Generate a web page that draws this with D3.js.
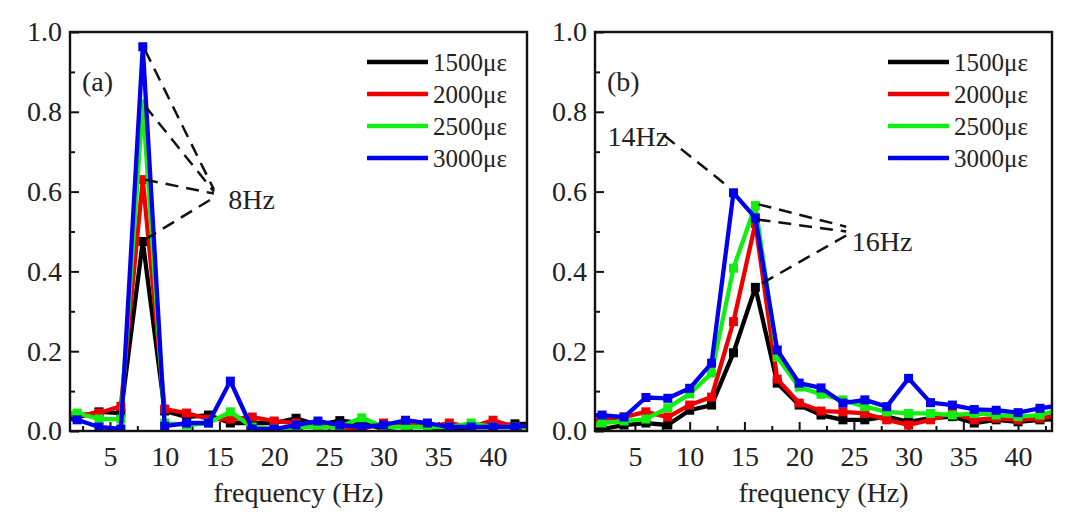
<!DOCTYPE html>
<html><head><meta charset="utf-8">
<script src="https://cdn.jsdelivr.net/npm/d3@7/dist/d3.min.js"></script>
<style>body{margin:0;background:#fff}svg{display:block}text{font-family:"Liberation Serif","Times New Roman",serif;fill:#222}</style>
</head><body>
<svg id="chart" width="1080" height="531"></svg>
<script>
// ---------- data ----------
const freqs = [0,2,4,6,8,10,12,14,16,18,20,22,24,26,28,30,32,34,36,38,40,42,44];
const seriesNames = ["1500\u03bc\u03b5","2000\u03bc\u03b5","2500\u03bc\u03b5","3000\u03bc\u03b5"];
const xTicks = [5,10,15,20,25,30,35,40];
const yTicks = [0,0.2,0.4,0.6,0.8,1.0];

const a1500 = [0.03,0.035,0.048,0.045,0.475,0.05,0.035,0.04,0.02,0.02,0.02,0.032,0.015,0.026,0.02,0.005,0.015,0.01,0.005,0.01,0.01,0.018,0.018];
const a2000 = [0.04,0.04,0.045,0.062,0.63,0.055,0.045,0.03,0.03,0.035,0.025,0.02,0.01,0.01,0.005,0.02,0.015,0.01,0.02,0.01,0.027,0.01,0.01];
const a2500 = [0.045,0.045,0.03,0.03,0.82,0.02,0.015,0.02,0.048,0.01,0.005,0.01,0.01,0.01,0.033,0.01,0.01,0.01,0.01,0.02,0.01,0.01,0.01];
const a3000 = [0.035,0.028,0.01,0.005,0.963,0.012,0.02,0.02,0.125,0.005,0.005,0.015,0.025,0.015,0.01,0.015,0.027,0.02,0.01,0.01,0.01,0.01,0.015];

const b1500 = [0.0,0.005,0.015,0.02,0.015,0.052,0.065,0.196,0.36,0.12,0.065,0.04,0.028,0.028,0.036,0.023,0.032,0.036,0.02,0.028,0.023,0.028,0.03];
const b2000 = [0.025,0.03,0.035,0.048,0.035,0.065,0.085,0.274,0.52,0.13,0.07,0.05,0.048,0.044,0.028,0.015,0.028,0.045,0.028,0.032,0.028,0.032,0.04];
const b2500 = [0.01,0.02,0.025,0.03,0.058,0.093,0.145,0.408,0.565,0.185,0.11,0.092,0.078,0.061,0.048,0.044,0.044,0.04,0.044,0.04,0.036,0.04,0.055];
const b3000 = [0.04,0.04,0.035,0.084,0.082,0.107,0.17,0.597,0.534,0.203,0.12,0.108,0.07,0.078,0.061,0.132,0.071,0.065,0.054,0.052,0.046,0.057,0.065];

// annotations: label positions and dashed leader segments [f1,v1,f2,v2] in data units
const annA = {tag:"(a)", label:"8Hz", lf:15.8, lv:0.582,
  lines:[[8.2,0.955,14.5,0.605],[8.2,0.815,14.5,0.60],[8.2,0.63,14.5,0.595],[8.2,0.48,14.5,0.585]]};
const annB = {tag:"(b)", label:"14Hz", lf:2.5, lv:0.74, label2:"16Hz", lf2:24.8, lv2:0.475,
  lines:[[7.7,0.74,13.4,0.615]],
  lines2:[[16.3,0.568,24.3,0.512],[16.2,0.53,24.3,0.50],[16.6,0.37,24.3,0.49]]};

const colors = ["#000000","#ee0000","#11ee11","#0000ee"];

// ---------- drawing ----------
const svg = d3.select("#chart");
const plotTop = 32, plotBottom = 431;
const panels = [
  {left:70, right:527, data:[a1500,a2000,a2500,a3000], ann:annA, legendX:367},
  {left:595, right:1052, data:[b1500,b2000,b2500,b3000], ann:annB, legendX:888}
];

panels.forEach((p,pi)=>{
  const x = d3.scaleLinear().domain([1.35,43.1]).range([p.left,p.right]);
  const y = d3.scaleLinear().domain([0,1]).range([plotBottom,plotTop]);
  const g = svg.append("g");
  const clipId = "clip"+pi;
  svg.append("defs").append("clipPath").attr("id",clipId)
    .append("rect").attr("x",p.left).attr("y",plotTop).attr("width",p.right-p.left).attr("height",plotBottom-plotTop);

  // axes with inward ticks
  const xMinor = d3.range(2.5,43,2.5).filter(v=>v%5!==0);
  const yMinor = [0.1,0.3,0.5,0.7,0.9];
  g.append("g").attr("transform",`translate(0,${plotBottom})`)
    .call(d3.axisBottom(x).tickValues(xMinor).tickSize(-5).tickFormat(""))
    .call(s=>s.select(".domain").remove()).selectAll("line").attr("stroke","#111").attr("stroke-width",2);
  const xa = g.append("g").attr("transform",`translate(0,${plotBottom})`)
    .call(d3.axisBottom(x).tickValues(xTicks).tickSize(-9).tickPadding(20).tickFormat(d3.format("d")));
  xa.select(".domain").remove();
  xa.selectAll("line").attr("stroke","#111").attr("stroke-width",2);
  xa.selectAll("text").attr("font-size",28).attr("fill","#222").attr("font-family","Liberation Serif").attr("dy","0.55em");

  g.append("g").attr("transform",`translate(${p.left},0)`)
    .call(d3.axisLeft(y).tickValues(yMinor).tickSize(-5).tickFormat(""))
    .call(s=>s.select(".domain").remove()).selectAll("line").attr("stroke","#111").attr("stroke-width",2);
  const ya = g.append("g").attr("transform",`translate(${p.left},0)`)
    .call(d3.axisLeft(y).tickValues(yTicks).tickSize(-9).tickPadding(8).tickFormat(d3.format(".1f")));
  ya.select(".domain").remove();
  ya.selectAll("line").attr("stroke","#111").attr("stroke-width",2);
  ya.selectAll("text").attr("font-size",28).attr("fill","#222").attr("font-family","Liberation Serif");

  // series
  const plot = g.append("g").attr("clip-path",`url(#${clipId})`);
  const line = d3.line().x((d,i)=>x(freqs[i])).y(d=>y(d));
  p.data.forEach((vals,si)=>{
    plot.append("path").datum(vals).attr("d",line).attr("fill","none")
      .attr("stroke",colors[si]).attr("stroke-width",4.3).attr("stroke-linejoin","round");
    plot.selectAll(null).data(vals).enter().append("rect")
      .attr("x",(d,i)=>x(freqs[i])-4.5).attr("y",d=>y(d)-4.5).attr("width",9).attr("height",9)
      .attr("fill",colors[si]);
  });

  // frame
  g.append("rect").attr("x",p.left).attr("y",plotTop).attr("width",p.right-p.left).attr("height",plotBottom-plotTop)
    .attr("fill","none").attr("stroke","#111").attr("stroke-width",2.4);

  // annotations
  const a = p.ann;
  const dash = (segs)=>segs.forEach(s=>{
    g.append("line").attr("x1",x(s[0])).attr("y1",y(s[1])).attr("x2",x(s[2])).attr("y2",y(s[3]))
      .attr("stroke","#111").attr("stroke-width",2.5).attr("stroke-dasharray","13,8");
  });
  dash(a.lines);
  if (a.lines2) dash(a.lines2);
  g.append("text").attr("x",p.left+12).attr("y",91).attr("font-size",28).text(a.tag);
  g.append("text").attr("x",x(a.lf)).attr("y",y(a.lv)+10).attr("font-size",28).text(a.label);
  if (a.label2) g.append("text").attr("x",x(a.lf2)).attr("y",y(a.lv2)+10).attr("font-size",28).text(a.label2);

  // legend
  seriesNames.forEach((n,si)=>{
    const ly = 62 + si*32;
    g.append("line").attr("x1",p.legendX).attr("x2",p.legendX+61).attr("y1",ly).attr("y2",ly)
      .attr("stroke",colors[si]).attr("stroke-width",4.5);
    g.append("text").attr("x",p.legendX+66).attr("y",ly+9).attr("font-size",25).text(n);
  });

  // x title
  g.append("text").attr("x",(p.left+p.right)/2).attr("y",502).attr("text-anchor","middle")
    .attr("font-size",28).text("frequency (Hz)");
});
</script>
</body></html>
